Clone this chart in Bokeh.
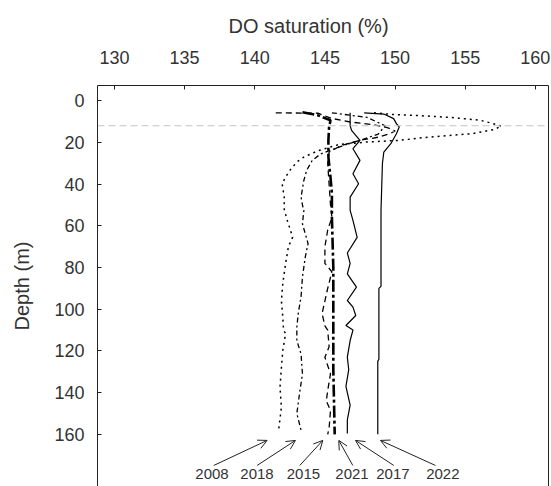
from bokeh.plotting import figure
from bokeh.models import Range1d, LinearAxis, FixedTicker, Span, Arrow, OpenHead, Title, ColumnDataSource
from bokeh.core.properties import value
from bokeh.embed import file_html
from bokeh.resources import INLINE

# ---------------- data ----------------
x_ticks = [130, 135, 140, 145, 150, 155, 160]
y_ticks = [0, 20, 40, 60, 80, 100, 120, 140, 160]
mixed_layer_depth = 12

d2008 = [5.8, 6.6, 7.4, 7.9, 8.6, 9.4, 11.0, 12.2, 13.9, 15.8, 17.7, 19.0, 19.8, 21.0, 24.0, 27.0, 29.4, 33.4,
         36.6, 39.8, 46.2, 52.0, 57.0, 65.4, 70.0, 78.0, 87.6, 96.0, 103.7, 110.0, 111.6, 119.7, 128.0, 137.4,
         147.0, 158.0]
s2008 = [148.5, 149.8, 152.5, 153.7, 154.9, 156.1, 157.0, 157.6, 157.0, 155.5, 152.0, 150.3, 148.0, 146.0, 144.5,
         143.5, 143.0, 142.5, 142.2, 141.95, 142.1, 142.1, 142.3, 142.7, 142.4, 142.2, 142.0, 141.9, 142.0, 142.05,
         142.2, 142.0, 141.9, 141.8, 141.9, 141.7]

d2018 = [5.8, 8.0, 12.0, 16.0, 19.0, 21.0, 23.5, 25.5, 28.6, 33.4, 38.2, 46.2, 50.0, 52.6, 59.0, 68.5, 75.0, 84.6,
         94.0, 102.0, 108.5, 115.0, 121.5, 131.0, 140.0, 150.0, 158.0]
s2018 = [145.5, 148.0, 149.3, 148.8, 147.5, 146.5, 145.5, 144.7, 144.1, 143.7, 143.5, 143.3, 143.4, 143.5, 143.4,
         143.8, 143.6, 143.4, 143.3, 143.1, 143.0, 143.0, 143.3, 143.4, 143.2, 143.0, 143.3]

d2015 = [5.8, 6.0, 8.5, 10.2, 11.5, 13.0, 14.5, 15.6, 17.5, 19.0, 21.4, 24.6, 30.0, 40.0, 50.0, 56.0, 62.0, 70.0,
         78.0, 82.0, 90.0, 102.0, 108.0, 110.0, 118.0, 123.0, 131.0, 139.0, 144.0, 148.5, 157.0, 160.0]
s2015 = [141.5, 144.5, 145.5, 146.8, 148.5, 149.5, 150.0, 149.7, 148.8, 147.5, 146.2, 145.3, 145.2, 145.3, 145.4,
         145.5, 145.2, 145.0, 145.0, 145.5, 145.2, 144.8, 145.0, 145.2, 145.3, 145.0, 145.4, 145.2, 145.1, 145.4,
         145.3, 145.2]

d2021 = [5.5, 7.0, 9.4, 12.6, 19.0, 27.0, 36.7, 44.5, 56.0, 80.0, 105.0, 129.0, 160.0]
s2021 = [143.4, 144.5, 145.4, 145.3, 145.25, 145.25, 145.4, 145.5, 145.5, 145.6, 145.6, 145.6, 145.7]

d2017 = [5.8, 12.0, 14.2, 19.0, 23.0, 28.6, 35.0, 39.8, 46.2, 52.6, 57.4, 65.5, 73.0, 78.0, 83.0, 89.4, 95.8, 99.0,
         103.0, 107.8, 110.0, 115.0, 123.0, 129.0, 137.0, 146.0, 153.0, 159.6]
s2017 = [146.8, 146.8, 146.9, 147.5, 147.0, 147.5, 147.0, 147.4, 146.8, 146.8, 147.0, 147.3, 146.6, 146.8, 146.6,
         147.25, 146.6, 147.0, 147.2, 146.5, 147.0, 146.8, 146.6, 146.7, 146.5, 146.8, 146.6, 146.6]

d2022 = [5.8, 6.4, 8.6, 11.0, 12.6, 15.8, 20.6, 24.6, 30.2, 52.6, 89.0, 90.0, 124.0, 125.0, 160.0]
s2022 = [147.8, 149.2, 149.9, 150.1, 150.3, 150.1, 149.7, 149.2, 149.1, 149.0, 149.0, 148.85, 148.85, 148.77, 148.77]

years = ["2008", "2018", "2015", "2021", "2017", "2022"]
label_x = [136.95, 140.16, 143.47, 146.93, 149.85, 153.41]
label_y = [179.0] * 6
arrow_tail_x = [137.08, 140.17, 143.21, 146.99, 149.91, 152.88]
arrow_tail_y = [174.9] * 6
arrow_tip_x = [140.88, 142.90, 144.85, 145.99, 147.18, 148.96]
arrow_tip_y = [162.9] * 6

FONT = "Liberation Sans"
TXT = "#333333"

p = figure(width=551, height=486,
           x_range=Range1d(128.79, 160.94), y_range=Range1d(185.0, -7.3),
           x_axis_location="above",
           output_backend="svg", toolbar_location=None,
           min_border_left=97, min_border_top=85, min_border_right=3, min_border_bottom=0)
p.outline_line_color = None
p.grid.visible = False
p.background_fill_color = "white"

for ax in (p.xaxis[0], p.yaxis[0]):
    ax.major_tick_in = 4
    ax.major_tick_out = 0
    ax.minor_tick_line_color = None
    ax.axis_line_color = "#222222"
    ax.major_tick_line_color = "#222222"
    ax.major_label_text_font = FONT
    ax.major_label_text_font_size = "18px"
    ax.major_label_text_color = TXT

p.xaxis[0].ticker = FixedTicker(ticks=x_ticks)
p.xaxis[0].major_label_standoff = 22
p.yaxis[0].ticker = FixedTicker(ticks=y_ticks)
p.yaxis[0].major_label_standoff = 13
p.yaxis[0].axis_label = "Depth (m)"
p.yaxis[0].axis_label_text_font = FONT
p.yaxis[0].axis_label_text_font_size = "20px"
p.yaxis[0].axis_label_text_font_style = "normal"
p.yaxis[0].axis_label_text_color = TXT
p.yaxis[0].axis_label_standoff = 18

right = LinearAxis(ticker=FixedTicker(ticks=[]), major_label_text_font_size="0px",
                   major_tick_line_color=None, minor_tick_line_color=None, axis_line_color="#222222")
p.add_layout(right, "right")

p.add_layout(Title(text="DO saturation (%)", align="left", offset=131, standoff=22,
                   text_font=FONT, text_font_size="20px", text_font_style="normal", text_color=TXT), "above")

p.add_layout(Span(location=mixed_layer_depth, dimension="width", line_color="#c4c4c4",
                  line_dash="7 4", line_width=1))

p.line(s2008, d2008, line_color="black", line_width=1.5, line_dash="2 4")
p.line(s2018, d2018, line_color="black", line_width=1.3, line_dash="5 3 2 3")
p.line(s2015, d2015, line_color="black", line_width=1.3, line_dash="6 4")
p.line(s2021, d2021, line_color="black", line_width=2.6, line_dash="12 3 3 3")
p.line(s2017, d2017, line_color="black", line_width=1.2)
p.line(s2022, d2022, line_color="black", line_width=1.2)

src = ColumnDataSource(dict(x0=arrow_tail_x, y0=arrow_tail_y, x1=arrow_tip_x, y1=arrow_tip_y))
p.add_layout(Arrow(end=OpenHead(size=9, line_width=1, line_color="#222222"),
                   x_start="x0", y_start="y0", x_end="x1", y_end="y1", source=src,
                   line_width=1, line_color="#222222"))

p.text(x=label_x, y=label_y, text=years, text_align="center", text_baseline="middle",
       text_font=value(FONT), text_font_size="15px", text_color=TXT)

open("out.html", "w").write(file_html(p, INLINE))
